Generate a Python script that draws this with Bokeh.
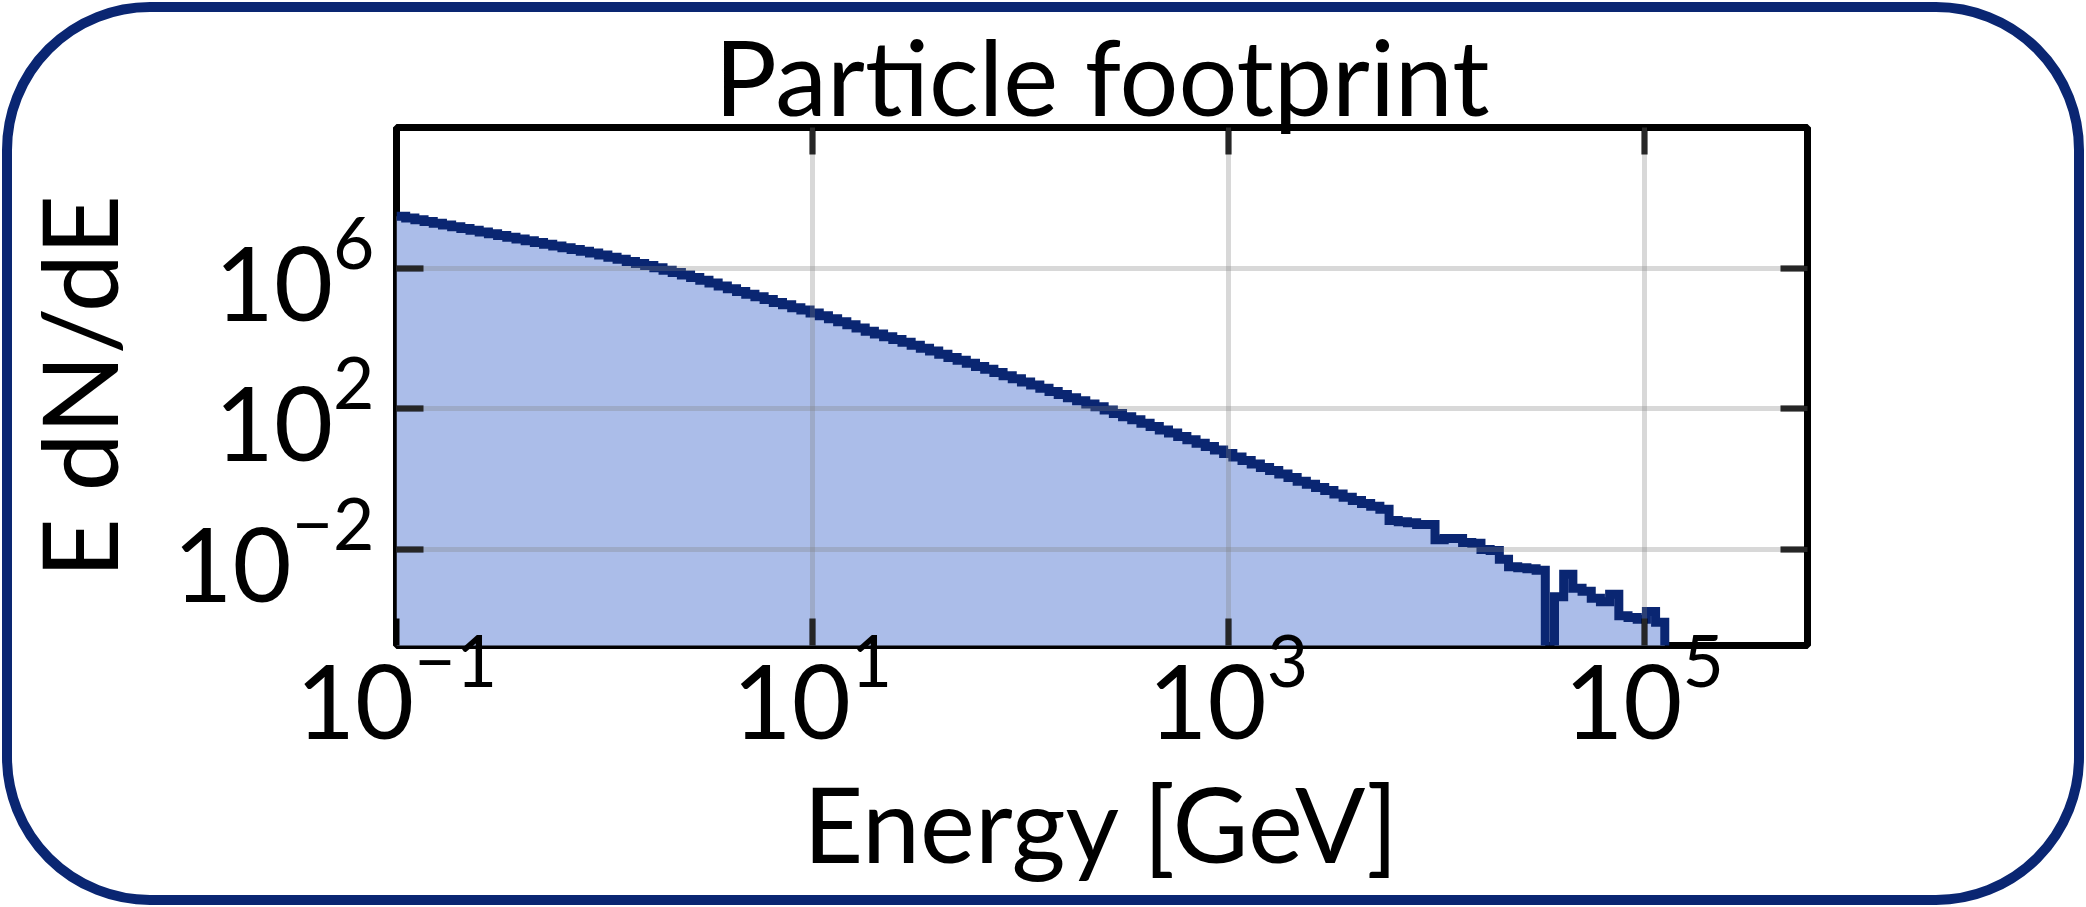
import numpy as np
from bokeh.plotting import figure
from bokeh.models import FixedTicker, LogAxis, Range1d, CustomJSTickFormatter
from bokeh.embed import file_html
from bokeh.resources import INLINE

# ---------------- data ----------------
title_text = "Particle footprint"
x_label = "Energy [GeV]"
y_label = "E dN/dE"

x_ticks = [1e-1, 1e1, 1e3, 1e5]
y_ticks = [1e-2, 1e2, 1e6]

# logarithmic energy bins
log_bin_width = 0.0442
n_bins = 138
energy_edges = 10 ** (-1 + log_bin_width * np.arange(n_bins + 1))

# log10(E dN/dE) per bin; None = empty bin
log10_e_dn_de = [
    7.50, 7.45, 7.40, 7.35, 7.30, 7.25, 7.20, 7.15, 7.10, 7.05,
    7.00, 6.95, 6.90, 6.85, 6.80, 6.75, 6.70, 6.65, 6.60, 6.55,
    6.50, 6.45, 6.39, 6.33, 6.27, 6.21, 6.15, 6.09, 6.03, 5.96,
    5.89, 5.82, 5.75, 5.67, 5.59, 5.51, 5.43, 5.35, 5.27, 5.20,
    5.12, 5.04, 4.97, 4.89, 4.82, 4.74, 4.66, 4.57, 4.49, 4.40,
    4.31, 4.22, 4.14, 4.06, 3.98, 3.90, 3.82, 3.73, 3.65, 3.56,
    3.47, 3.39, 3.30, 3.21, 3.13, 3.04, 2.95, 2.86, 2.77, 2.68,
    2.59, 2.50, 2.41, 2.32, 2.23, 2.14, 2.06, 1.97, 1.87, 1.78,
    1.69, 1.59, 1.50, 1.40, 1.31, 1.21, 1.12, 1.02, 0.93, 0.83,
    0.73, 0.63, 0.53, 0.43, 0.33, 0.24, 0.14, 0.04, -0.06, -0.15,
    -0.24, -0.33, -0.43, -0.52, -0.61, -0.70, -0.78, -0.86, -1.18, -1.22,
    -1.25, -1.30, -1.30, -1.73, -1.70, -1.70, -1.81, -1.83, -2.01, -2.04,
    -2.29, -2.50, -2.53, -2.56, -2.60, None, -3.36, -2.72, -3.12, -3.20,
    -3.40, -3.50, -3.29, -3.90, -3.95, -4.00, -3.78, -4.09,
]

# ---------------- styling ----------------
NAVY = "#0a2672"
FILL = "#abbde9"
FONT = "Lato"
FS = "104px"
TICK_FS = "102px"

W, H = 2086, 907
FL, FR, FT, FB = 396, 1807, 127, 645   # frame edges in canvas px

values = np.array([0.0 if v is None else 10.0 ** v for v in log10_e_dn_de])
floor = 1e-6  # histogram baseline (below visible range)
tops = np.maximum(values, floor)

p = figure(
    width=W, height=H,
    x_axis_type="log", y_axis_type="log",
    x_range=Range1d(1e-1, 10 ** 5.786),
    y_range=Range1d(10 ** -4.75, 10 ** 10.03),
    output_backend="svg", toolbar_location=None, title=title_text,
    min_border_left=FL, min_border_right=W - FR,
    min_border_top=FT, min_border_bottom=H - FB,
)
bottom_axis = p.below[0]
left_axis = p.left[0]

p.background_fill_color = "white"
p.border_fill_color = None
p.outline_line_color = "black"
p.outline_line_width = 7
# rounded navy border around the whole picture
p.styles = {"outline": f"10px solid {NAVY}", "outline-offset": "-12px",
            "border-radius": "150px"}

# filled histogram
p.varea_step(x=energy_edges, y1=np.full(n_bins + 1, floor),
             y2=np.append(tops, tops[-1]), step_mode="after",
             fill_color=FILL, fill_alpha=1.0)
# step outline (no rising edge at the first bin, falls to baseline at the end)
xs = np.repeat(energy_edges, 2)[1:]
ys = np.append(np.repeat(tops, 2), floor)
p.line(xs, ys, line_color=NAVY, line_width=9, line_join="miter")

# axes
blank = CustomJSTickFormatter(code="return ''")
top_axis = LogAxis(formatter=blank)
right_axis = LogAxis(formatter=blank)
p.add_layout(top_axis, "above")
p.add_layout(right_axis, "right")

for ax in [bottom_axis, top_axis]:
    ax.ticker = FixedTicker(ticks=x_ticks)
for ax in [left_axis, right_axis]:
    ax.ticker = FixedTicker(ticks=y_ticks)

for ax in [bottom_axis, top_axis, left_axis, right_axis]:
    ax.minor_tick_line_color = None
    ax.major_tick_in = 27
    ax.major_tick_out = 0
    ax.major_tick_line_width = 6
    ax.major_tick_line_color = "black"
    ax.axis_line_color = None
    ax.major_label_text_font = FONT
    ax.major_label_text_font_size = TICK_FS
    ax.major_label_text_color = "black"
    ax.axis_label_text_font = FONT
    ax.axis_label_text_font_size = FS
    ax.axis_label_text_font_style = "normal"
    ax.axis_label_text_color = "black"

for ax in [top_axis, right_axis]:
    ax.major_label_text_font_size = "1px"
    ax.major_label_standoff = 0

bottom_axis.axis_label = x_label
left_axis.axis_label = y_label
bottom_axis.major_label_standoff = -12
left_axis.major_label_standoff = 22
bottom_axis.axis_label_standoff = 18
left_axis.axis_label_standoff = 30

# grid drawn over the histogram
p.xgrid.ticker = FixedTicker(ticks=x_ticks[1:])
p.ygrid.ticker = FixedTicker(ticks=y_ticks)
for g in [p.xgrid, p.ygrid]:
    g.grid_line_color = "#7f7f7f"
    g.grid_line_alpha = 0.3
    g.grid_line_width = 5
    g.level = "overlay"

# title
p.title.align = "center"
p.title.text_font = FONT
p.title.text_font_size = FS
p.title.text_font_style = "normal"
p.title.text_color = "black"
p.title.standoff = -21
p.title.offset = 9

open("out.html", "w").write(file_html(p, INLINE))
